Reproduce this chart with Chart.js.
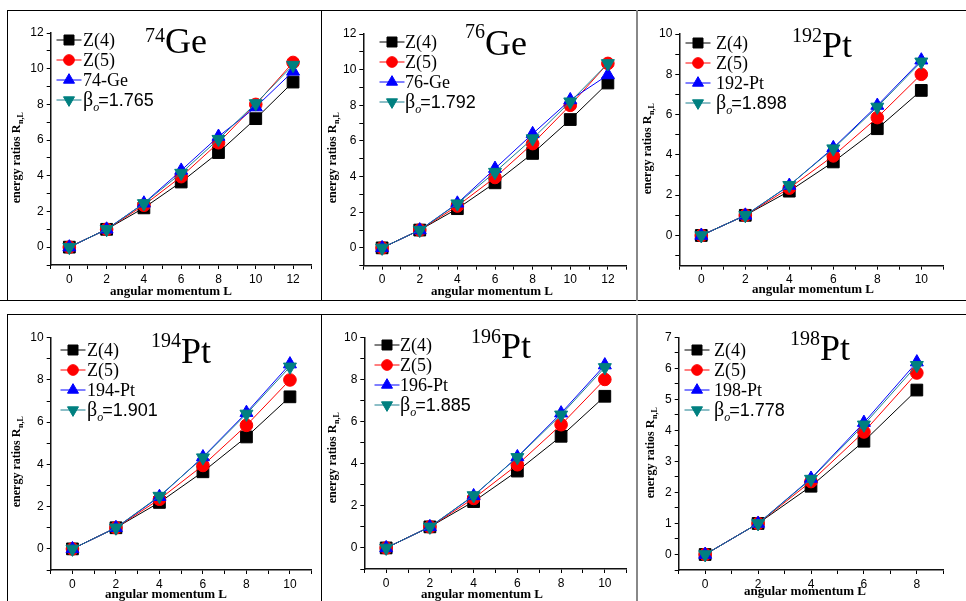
<!DOCTYPE html>
<html><head><meta charset="utf-8">
<script src="https://cdn.jsdelivr.net/npm/chart.js@4/dist/chart.umd.min.js"></script>
<style>
body{margin:0;width:966px;height:601px;background:#fff;position:relative;overflow:hidden}
.cell{position:absolute}
.ln{position:absolute}
</style></head><body>
<script>
// ---------------- data ----------------
const L_ge  = [0, 2, 4, 6, 8, 10, 12];
const L_pt  = [0, 2, 4, 6, 8, 10];
const L_198 = [0, 2, 4, 6, 8];

const z4 = [0, 1, 2.2, 3.65, 5.3, 7.2, 9.25];
const z5 = [0, 1, 2.35, 3.95, 5.85, 8.0, 10.35];

const exp74Ge  = [0, 1, 2.46, 4.3, 6.2, 7.85, 9.85];
const beta74Ge = [0, 1, 2.45, 4.15, 6.05, 8.05, 10.2];
const exp76Ge  = [0, 1, 2.5, 4.45, 6.4, 8.3, 9.7];
const beta76Ge = [0, 1, 2.48, 4.25, 6.13, 8.2, 10.35];
const exp192Pt  = [0, 1, 2.48, 4.35, 6.45, 8.7];
const beta192Pt = [0, 1, 2.49, 4.31, 6.38, 8.62];
const exp194Pt  = [0, 1, 2.47, 4.35, 6.45, 8.75];
const beta194Pt = [0, 1, 2.5, 4.32, 6.39, 8.62];
const exp196Pt  = [0, 1, 2.47, 4.32, 6.4, 8.68];
const beta196Pt = [0, 1, 2.49, 4.3, 6.32, 8.57];
const exp198Pt  = [0, 1, 2.45, 4.25, 6.2];
const beta198Pt = [0, 1, 2.43, 4.18, 6.1];

const massNumbers = ['74', '76', '192', '194', '196', '198'];
const elements    = ['Ge', 'Ge', 'Pt', 'Pt', 'Pt', 'Pt'];
const expLabels   = ['74-Ge', '76-Ge', '192-Pt', '194-Pt', '196-Pt', '198-Pt'];
const betaValues  = ['1.765', '1.792', '1.898', '1.901', '1.885', '1.778'];
const modelLabels = ['Z(4)', 'Z(5)'];
const xTitle = 'angular momentum L';
const yTitleMain = 'energy ratios R';
const yTitleSub = 'n,L';

const xTicksGe = [-1,0,1,2,3,4,5,6,7,8,9,10,11,12,13];
const xTicksPt = [-1,0,1,2,3,4,5,6,7,8,9,10,11];
const xTicks198 = [-1,0,1,2,3,4,5,6,7,8,9];
const yTicks12 = [-1,0,1,2,3,4,5,6,7,8,9,10,11,12];
const yTicks10 = [-1,0,1,2,3,4,5,6,7,8,9,10];
const yTicks7 = [-0.5,0,0.5,1,1.5,2,2.5,3,3.5,4,4.5,5,5.5,6,6.5,7];

const panelData = [
  {L: L_ge,  exp: exp74Ge,  beta: beta74Ge,  xt: xTicksGe,  yt: yTicks12, xr: [-1, 13], yr: [-1, 12],   xs: 2, ys: 2},
  {L: L_ge,  exp: exp76Ge,  beta: beta76Ge,  xt: xTicksGe,  yt: yTicks12, xr: [-1, 13], yr: [-1, 12],   xs: 2, ys: 2},
  {L: L_pt,  exp: exp192Pt, beta: beta192Pt, xt: xTicksPt,  yt: yTicks10, xr: [-1, 11], yr: [-1.5, 10], xs: 2, ys: 2},
  {L: L_pt,  exp: exp194Pt, beta: beta194Pt, xt: xTicksPt,  yt: yTicks10, xr: [-1, 11], yr: [-1, 10],   xs: 2, ys: 2},
  {L: L_pt,  exp: exp196Pt, beta: beta196Pt, xt: xTicksPt,  yt: yTicks10, xr: [-1, 11], yr: [-1, 10],   xs: 2, ys: 2},
  {L: L_198, exp: exp198Pt, beta: beta198Pt, xt: xTicks198, yt: yTicks7,  xr: [-1, 9],  yr: [-0.5, 7],  xs: 2, ys: 1},
];

// ---------------- layout (absolute page px) ----------------
const layout = [
  {cell:[7,10,321,300],   plot:[50.7,33,314,265],      title:[145,53,42],   leg:[69,40,83],   yT:[17,158],  xT:[171,292]},
  {cell:[321,10,636,300], plot:[363.3,34,629.3,265.7], title:[465,55,38],   leg:[392,42,405], yT:[333,158], xT:[492,292]},
  {cell:[636,10,966,300], plot:[679.3,34,943.3,265.7], title:[792,57,42],   leg:[698,43,716], yT:[648,149], xT:[813,290]},
  {cell:[7,314,321,601],  plot:[50.7,337.7,313.3,570], title:[151,363,347], leg:[73,350,87],  yT:[17,462],  xT:[166,595]},
  {cell:[321,314,636,601],plot:[364.3,337.3,629.3,569],title:[471,358,343], leg:[387,345,400],yT:[333,458], xT:[482,595]},
  {cell:[636,314,966,601],plot:[678.7,337.3,943.3,570],title:[790,360,345], leg:[697,350,714],yT:[651,453], xT:[805,592]},
];

const styles = [
  {color:'#000000', line:'#000000', ps:'rect',     r:8.3, rot:0},
  {color:'#ff0000', line:'#ff0000', ps:'circle',   r:6.3, rot:0},
  {color:'#0000ff', line:'#0000ff', ps:'triangle', r:7.5, rot:0},
  {color:'#008080', line:'#1a7f8f', ps:'triangle', r:7.5, rot:180},
];

const SERIF = '"Liberation Serif", "Times New Roman", serif';
const SANS = '"Liberation Sans", Arial, sans-serif';

function isMult(v, s){ const q = v / s; return Math.abs(q - Math.round(q)) < 1e-9; }

const annotPlugin = {
  id: 'annot',
  afterDraw(chart, args, o) {
    const ctx = chart.ctx;
    const ox = o.ox, oy = o.oy;
    ctx.save();
    ctx.fillStyle = '#000';
    // title with superscript mass number
    ctx.textBaseline = 'alphabetic';
    ctx.textAlign = 'left';
    ctx.font = '20px ' + SERIF;
    ctx.fillText(o.mass, o.title[0] - ox, o.title[2] - oy);
    const mw = ctx.measureText(o.mass).width;
    ctx.font = '36px ' + SERIF;
    ctx.fillText(o.el, o.title[0] + mw - ox, o.title[1] - oy);

    // legend
    const texts = [modelLabels[0], modelLabels[1], o.expLabel, null];
    chart.data.datasets.forEach((ds, k) => {
      const st = styles[k];
      const mx = o.leg[0] - ox, y = o.leg[1] + 20 * k - oy;
      ctx.strokeStyle = st.line; ctx.lineWidth = 1;
      ctx.beginPath(); ctx.moveTo(mx - 12.5, y); ctx.lineTo(mx + 12.5, y); ctx.stroke();
      ctx.fillStyle = st.color; ctx.strokeStyle = st.color;
      Chart.helpers.drawPoint(ctx, {pointStyle: st.ps, radius: st.r * 0.85, rotation: st.rot, borderWidth: 1}, mx, y);
      ctx.fillStyle = '#000';
      ctx.textBaseline = 'middle';
      const tx = o.leg[2] - ox;
      if (texts[k] !== null) {
        ctx.font = '18px ' + SERIF;
        ctx.fillText(texts[k], tx, y + 1);
      } else {
        ctx.font = '20px ' + SERIF;
        ctx.fillText('\u03B2', tx, y + 1);
        const bw = ctx.measureText('\u03B2').width;
        ctx.font = 'italic 12px ' + SERIF;
        ctx.fillText('o', tx + bw, y + 8);
        const ow = ctx.measureText('o').width;
        ctx.font = '18px ' + SANS;
        ctx.fillText('=' + o.beta, tx + bw + ow - 1, y + 1);
      }
    });

    // x title
    ctx.font = 'bold 13px ' + SERIF;
    ctx.textAlign = 'center';
    ctx.textBaseline = 'middle';
    ctx.fillText(xTitle, o.xT[0] - ox, o.xT[1] - oy);

    // y title (rotated, with subscript)
    ctx.translate(o.yT[0] - ox, o.yT[1] - oy);
    ctx.rotate(-Math.PI / 2);
    ctx.textAlign = 'left';
    ctx.font = 'bold 12px ' + SERIF;
    const w1 = ctx.measureText(yTitleMain).width;
    ctx.font = 'bold 8px ' + SERIF;
    const w2 = ctx.measureText(yTitleSub).width;
    const start = -(w1 + w2) / 2;
    ctx.font = 'bold 12px ' + SERIF;
    ctx.fillText(yTitleMain, start, 0);
    ctx.font = 'bold 8px ' + SERIF;
    ctx.fillText(yTitleSub, start + w1 + 0.5, 4);
    ctx.restore();
  }
};

function axis(range, ticks, labelStep, fitProp, fitVal) {
  return {
    type: 'linear',
    min: range[0], max: range[1],
    afterBuildTicks(s) { s.ticks = ticks.map(v => ({value: v})); },
    afterFit(s) { s[fitProp] = fitVal; },
    grid: {display: true, drawOnChartArea: false, drawTicks: true, tickLength: 4, color: '#000', lineWidth: 1},
    border: {display: true, color: '#111', width: 1.5},
    ticks: {
      autoSkip: false, maxRotation: 0, minRotation: 0, includeBounds: false, padding: 3,
      color: '#000', font: {family: SANS, size: 12},
      callback: v => (v >= 0 && isMult(v, labelStep)) ? String(v) : ''
    },
    title: {display: false}
  };
}

// borders of the panels
function addLine(x, y, w, h, c) {
  const d = document.createElement('div');
  d.className = 'ln';
  Object.assign(d.style, {left: x + 'px', top: y + 'px', width: w + 'px', height: h + 'px', background: c, zIndex: 5});
  document.body.appendChild(d);
}

panelData.forEach((pd, i) => {
  const lo = layout[i];
  const [cx0, cy0, cx1, cy1] = lo.cell;
  const [px0, py0, px1, py1] = lo.plot;
  const W = cx1 - cx0, H = cy1 - cy0;
  const YW = 40, XH = 30;
  const div = document.createElement('div');
  div.className = 'cell';
  Object.assign(div.style, {left: cx0 + 'px', top: cy0 + 'px', width: W + 'px', height: H + 'px'});
  const cv = document.createElement('canvas');
  cv.width = W; cv.height = H;
  cv.style.width = W + 'px'; cv.style.height = H + 'px';
  div.appendChild(cv);
  document.body.appendChild(div);

  const series = [z4, z5, pd.exp, pd.beta];
  const datasets = series.map((vals, k) => {
    const st = styles[k];
    return {
      data: pd.L.map((L, j) => ({x: L, y: vals[j]})),
      borderColor: st.line, backgroundColor: st.color,
      pointBackgroundColor: st.color, pointBorderColor: st.color,
      pointStyle: st.ps, pointRadius: st.r, pointRotation: st.rot, pointBorderWidth: 1,
      borderWidth: 1, tension: 0, fill: false, clip: false,
      order: 3 - k
    };
  });

  new Chart(cv, {
    type: 'line',
    data: {datasets},
    options: {
      responsive: false, animation: false, devicePixelRatio: 1,
      events: [],
      layout: {padding: {
        left: px0 - cx0 - YW, top: py0 - cy0,
        right: cx1 - px1, bottom: cy1 - py1 - XH
      }},
      scales: {
        x: axis(pd.xr, pd.xt, pd.xs, 'height', XH),
        y: axis(pd.yr, pd.yt, pd.ys, 'width', YW)
      },
      plugins: {
        legend: {display: false}, tooltip: {enabled: false},
        annot: {
          ox: cx0, oy: cy0, mass: massNumbers[i], el: elements[i],
          expLabel: expLabels[i], beta: betaValues[i],
          title: lo.title, leg: lo.leg, xT: lo.xT, yT: lo.yT
        }
      }
    },
    plugins: [annotPlugin]
  });
});

// frame lines
addLine(7, 9.5, 959, 1.5, '#000');
addLine(0, 299.5, 966, 1.5, '#000');
addLine(7, 313.5, 959, 1.5, '#000');
addLine(6.5, 9.5, 1.5, 291, '#000');
addLine(6.5, 313.5, 1.5, 288, '#000');
addLine(320.5, 9.5, 1.5, 291, '#000');
addLine(320.5, 313.5, 1.5, 288, '#000');
addLine(635.5, 9.5, 2, 291, '#888');
addLine(635.5, 313.5, 2, 288, '#888');
</script>
</body></html>
